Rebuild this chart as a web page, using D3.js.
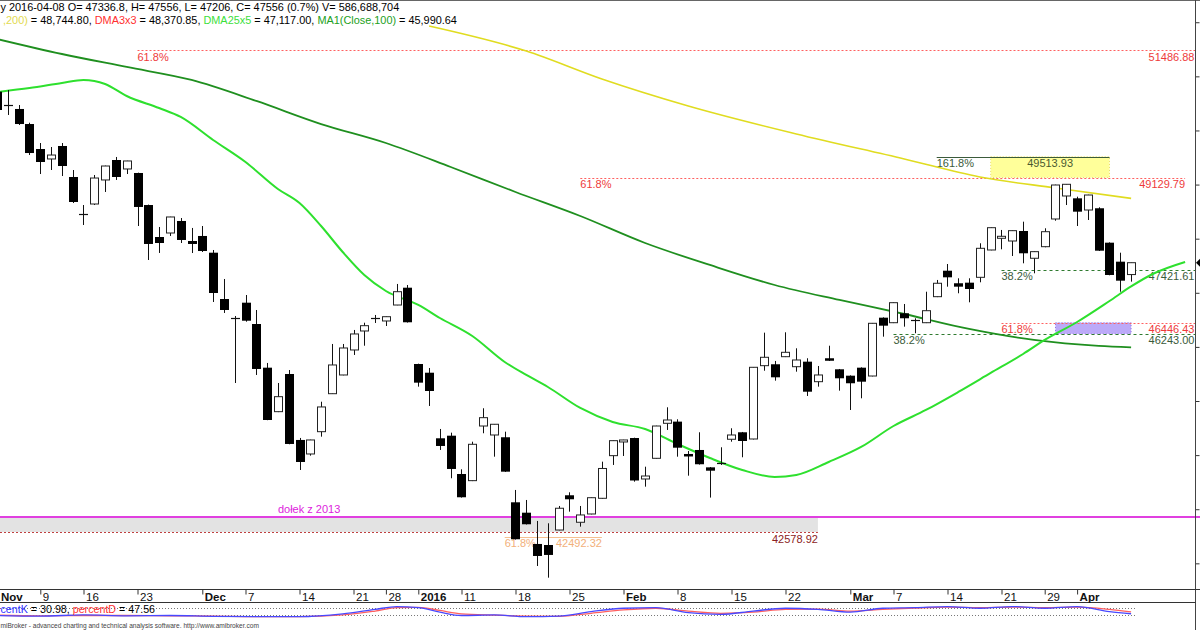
<!DOCTYPE html>
<html><head><meta charset="utf-8">
<script src="https://cdn.jsdelivr.net/npm/d3@7"></script>
<style>
body{margin:0;background:#fff}
svg{display:block}
text{font-family:"Liberation Sans",Arial,sans-serif;white-space:pre}
</style>
</head><body>
<svg id="c" width="1200" height="630"></svg>
<script>
// ---------------- DATA ----------------
const tradingDates = [
"2015-11-02","2015-11-03","2015-11-04","2015-11-05","2015-11-06",
"2015-11-09","2015-11-10","2015-11-12","2015-11-13",
"2015-11-16","2015-11-17","2015-11-18","2015-11-19","2015-11-20",
"2015-11-23","2015-11-24","2015-11-25","2015-11-26","2015-11-27",
"2015-11-30","2015-12-01","2015-12-02","2015-12-03","2015-12-04",
"2015-12-07","2015-12-08","2015-12-09","2015-12-10","2015-12-11",
"2015-12-14","2015-12-15","2015-12-16","2015-12-17","2015-12-18",
"2015-12-21","2015-12-22","2015-12-23","2015-12-28","2015-12-29","2015-12-30",
"2016-01-04","2016-01-05","2016-01-07","2016-01-08",
"2016-01-11","2016-01-12","2016-01-13","2016-01-14","2016-01-15",
"2016-01-18","2016-01-19","2016-01-20","2016-01-21","2016-01-22",
"2016-01-25","2016-01-26","2016-01-27","2016-01-28","2016-01-29",
"2016-02-01","2016-02-02","2016-02-03","2016-02-04","2016-02-05",
"2016-02-08","2016-02-09","2016-02-10","2016-02-11","2016-02-12",
"2016-02-15","2016-02-16","2016-02-17","2016-02-18","2016-02-19",
"2016-02-22","2016-02-23","2016-02-24","2016-02-25","2016-02-26","2016-02-29",
"2016-03-01","2016-03-02","2016-03-03","2016-03-04",
"2016-03-07","2016-03-08","2016-03-09","2016-03-10","2016-03-11",
"2016-03-14","2016-03-15","2016-03-16","2016-03-17","2016-03-18",
"2016-03-21","2016-03-22","2016-03-23","2016-03-24",
"2016-03-29","2016-03-30","2016-03-31",
"2016-04-01","2016-04-04","2016-04-05","2016-04-06","2016-04-07","2016-04-08",
"2016-04-11","2016-04-12","2016-04-13","2016-04-14","2016-04-15"];

const candleDates = tradingDates.slice(1, tradingDates.indexOf("2016-04-08") + 1);

const openVals = [50716,50450,50397,50119, 49657,49473,49713,49140, 48440,48641,49085,49454,49288,
 49214,48622,48031,48105,48327, 47957, 48050,47741,46885,46520, 46817,46423,45616,44803,45499,
 44280,44021,44433,45135,45481, 45943,46294,46525, 46479,46774,47094, 45684,45523,44311,44359,
 43651,43528,44538,44372,44330, 43128,42936,42358,42339,42616, 43258,42759,42912,43202,43990,
 44248,44316,43559,43941,44588, 44619,44021,44095,43774,43845, 44293,44422,44298,45653,45679,
 45819,45634,45727,45357,45790, 45586, 45468,45616,45462,46540, 46447,46621,46480,46447,46928,
 47408,47176,47187,47286,47791, 48013,47957,48142,47638, 47852,48364,48789, 48746,
 48530,48562,47926,47575,47336.8];
const highVals = [50785,50747,50470,50143, 49768,49694,49768,49269, 48622,49177,49350,49510,49440,
 49220,48630,48216,48405,48382, 48198, 48234,47791,47255,46571, 46959,46682,45703,45333,45573,
 44317,44285,44987,46054,46054, 46313,46447,46590, 46562,47163,47144, 45690,45610,44483,44415,
 43738,44248,44866,44575,44433, 43356,43171,42783,42740,43060, 43313,43060,43218,43879,44270,
 44283,44322,43786,44543,44884, 44662,44076,44422,43780,44145, 44496,44428,45628,46263,45740,
 46270,45974,45790,45647,46022, 45592, 45474,45622,46442,46546, 46822,46793,46529,47020,47237,
 47532,47268,47268,47915,48208, 48161,48152,48314,47765, 48192,48998,49010, 48776,
 48812,48580,47932,47741,47556];
const lowVals = [50341,50286,50101,49546, 49195,49269,49158,48659, 48253,48622,48863,49085,49195,
 48234,47606,47736,48050,47920, 47735, 47754,46830,46627,45333, 46466,45481,44645,44795,44200,
 43725,43990,44341,45130,45475, 45851,46022,46442, 46386,46770,46450, 45265,44908,44095,43572,
 43215,43520,44404,43971,43690, 42440,42718,41951,41735,42610, 42955,42678,42905,43195,43818,
 43984,43509,43417,43935,44465, 43971,43620,43825,43215,43818, 44248,43960,44290,45560,45376,
 45812,45542,45093,45265,45740, 45191, 44834,45050,45455,46189, 46440,46374,46252,46440,46920,
 47113,46991,46824,47194,47785, 47804,47680,47545,47360, 47841,48332,48622, 48234,
 48345,47773,47323,47020,47206];
const closeVals = [50378,50465,50119,49583, 49417,49546,49343,48678, 48450,49121,49343,49140,49436,
 48586,47902,47920,48401,47976, 47902, 47772,46996,46682,46535, 46484,45592,44649,45080,44206,
 43873,44280,44890,45666,45980, 46239,46392,46532, 46558,47020,46455, 45339,45185,44169,43744,
 43221,44200,44692,44570,43694, 42445,42722,42136,42155,43018, 43184,42894,43213,43753,44267,
 44280,43531,43614,44538,44649, 44137,43990,43831,43712,43852, 44372,44261,45623,45808,45438,
 45900,45758,45172,45481,45745, 45420, 45328,45357,46436,46392, 46817,46529,46488,46669,47176,
 47286,47113,47070,47822,48203, 48044,48148,47730,47760, 48129,48992,49005, 48499,
 48807,47778,47329,47224,47556];

const ma200Dates = ["2016-01-05","2016-01-19","2016-01-28","2016-02-09","2016-02-23","2016-03-08","2016-03-17","2016-03-30","2016-04-08"];
const ma200Vals  = [51930,51468,50951,50452,49935,49473,49140,48937,48744.8];

const ma100Dates = ["2015-11-03","2015-11-12","2015-11-20","2015-11-30","2015-12-08","2015-12-16","2015-12-28","2016-01-08","2016-01-18","2016-01-26","2016-02-03","2016-02-11","2016-02-19","2016-02-29","2016-03-08","2016-03-16","2016-03-24","2016-04-05","2016-04-08"];
const ma100Vals  = [51690,51413,51173,50933,50545,50119,49768,49325,48863,48419,47920,47514,47144,46867,46608,46331,46128,46017,45990.64];

const dma25Dates = ["2015-11-03","2015-11-06","2015-11-12","2015-11-16","2015-11-18","2015-11-20","2015-11-25","2015-11-27","2015-12-02","2015-12-07","2015-12-10","2015-12-14","2015-12-16","2015-12-18","2015-12-22","2015-12-28","2016-01-04","2016-01-07","2016-01-12","2016-01-15","2016-01-19","2016-01-21","2016-01-26","2016-01-29","2016-02-03","2016-02-08","2016-02-11","2016-02-16","2016-02-19","2016-02-23","2016-02-26","2016-03-02","2016-03-07","2016-03-10","2016-03-15","2016-03-18","2016-03-23","2016-03-29","2016-04-01","2016-04-06","2016-04-08","2016-04-12","2016-04-15"];
const dma25Vals  = [50711,50785,50877,50933,50859,50637,50415,50249,49824,49417,48918,48659,48234,47754,47329,47033,46775,46534,46201,45721,45481,45259,44871,44612,44483,44206,43947,43725,43596,43633,43873,44150,44538,44834,45167,45518,45869,46128,46460,46848,47117,47347,47569];

// Stochastic (bottom strip)
const stochDates = ["2015-11-03","2015-11-09","2015-11-16","2015-11-20","2015-11-26","2015-12-02","2015-12-08","2015-12-14","2015-12-18","2015-12-23","2015-12-29","2016-01-04","2016-01-07","2016-01-11","2016-01-14","2016-01-19","2016-01-22","2016-01-27","2016-02-01","2016-02-04","2016-02-09","2016-02-12","2016-02-17","2016-02-22","2016-02-25","2016-03-01","2016-03-04","2016-03-09","2016-03-14","2016-03-17","2016-03-22","2016-03-29","2016-04-01","2016-04-06","2016-04-08"];
const stochK = [15,10,20,12,15,8,5,5,30,70,95,85,45,15,20,5,10,50,80,85,40,25,55,80,70,45,80,85,95,80,95,80,95,50,30.98];
const stochD = [18,12,15,15,12,10,6,6,20,55,85,88,60,30,18,10,8,35,65,80,55,35,45,70,72,55,70,82,90,85,90,85,90,70,47.56];

// Fibonacci / support levels
const levelValues = [51486.88, 49129.79, 47421.61, 46446.43, 46243.00];
const levelPct    = ["61.8%", "61.8%", "38.2%", "61.8%", "38.2%"];
const levelStart  = ["2015-11-23", "2016-01-26", "2016-03-21", "2016-03-21", "2016-03-07"];
const levelKind   = ["r", "r", "g", "r", "g"];
const extValue = 49513.93, extPct = "161.8%", extStart = "2016-03-11", extBoxStart = "2016-03-18", extEnd = "2016-04-06";
const purpleBox = {start:"2016-03-30", end:"2016-04-08", hi:46446.43, lo:46243.00};
const low2013 = 42857, low2013Label = "dołek z 2013", low2013LabelDate = "2015-12-10";
const grayBox = {end:"2016-02-25", hi:42857, lo:42578.92};
const orangeLevel = {value:42492.32, pct:"61.8%", start:"2016-01-15", end:"2016-01-28"};

const priceTicks = [42000,43000,44000,45000,46000,47000,48000,49000,50000,51000,52000];
const xTickDates  = ["2015-11-02","2015-11-09","2015-11-16","2015-11-23","2015-12-01","2015-12-07","2015-12-14","2015-12-21","2015-12-28","2016-01-04","2016-01-11","2016-01-18","2016-01-25","2016-02-01","2016-02-08","2016-02-15","2016-02-22","2016-03-01","2016-03-07","2016-03-14","2016-03-21","2016-03-29","2016-04-01"];
const xTickLabels = ["Nov","9","16","23","Dec","7","14","21","28","2016","11","18","25","Feb","8","15","22","Mar","7","14","21","29","Apr"];

// header / legend texts (visible parts, as in the reference)
const headerLine1 = "y 2016-04-08 O= 47336.8, H= 47556, L= 47206, C= 47556 (0.7%) V= 586,688,704";
const headerLine2 = [[",200)", "#e2da50"], [" = 48,744.80, ", "#000"], ["DMA3x3", "#ff3030"], [" = 48,370.85, ", "#000"],
  ["DMA25x5", "#3ce03c"], [" = 47,117.00, ", "#000"], ["MA1(Close,100)", "#22a022"], [" = 45,990.64", "#000"]];
const stochLegend = [["centK", "#3030ff"], [" = 30.98, ", "#000"], ["percentD", "#ff3030"], [" = 47.56", "#000"]];
const footerText = "miBroker - advanced charting and technical analysis software. http://www.amibroker.com";

// ---------------- CHART ----------------
const W = 1200, H = 630, axisX = 1195.5;
const svg = d3.select("#c");
const x = d3.scalePoint().domain(tradingDates).range([-13.7, 1185.1]);
const y = d3.scaleLinear().domain([41692, 52411]).range([580, 0]);
const ys = d3.scaleLinear().domain([0, 100]).range([617.2, 606]);
const RED = "#ee3a3a", DKG = "#3b5b3b";

const gAnn = svg.append("g");
// gray box + magenta low of 2013
gAnn.append("rect").attr("x", 0).attr("y", y(grayBox.hi)).attr("width", x(grayBox.end))
  .attr("height", y(grayBox.lo) - y(grayBox.hi)).attr("fill", "#e3e3e3");
gAnn.append("line").attr("x1", 0).attr("x2", x(grayBox.end)).attr("y1", Math.round(y(grayBox.lo)) + .5).attr("y2", Math.round(y(grayBox.lo)) + .5)
  .attr("stroke", "#c04040").attr("stroke-dasharray", "2,2");
gAnn.append("text").attr("x", x(grayBox.end)).attr("y", y(grayBox.lo) + 10.5).attr("text-anchor", "end")
  .attr("font-size", 11).attr("fill", "#8b2222").text(d3.format(".2f")(grayBox.lo));

// orange level
gAnn.append("line").attr("x1", x(orangeLevel.start)).attr("x2", x(orangeLevel.end))
  .attr("y1", Math.round(y(orangeLevel.value)) + .5).attr("y2", Math.round(y(orangeLevel.value)) + .5)
  .attr("stroke", "#f5c090").attr("stroke-width", 1);
gAnn.append("text").attr("x", x(orangeLevel.start)).attr("y", y(orangeLevel.value) + 10.5)
  .attr("font-size", 11).attr("fill", "#f2b07a").text(orangeLevel.pct);
gAnn.append("text").attr("x", x(orangeLevel.end)).attr("y", y(orangeLevel.value) + 10.5).attr("text-anchor", "end")
  .attr("font-size", 11).attr("fill", "#f2b07a").text(d3.format(".2f")(orangeLevel.value));

// yellow extension box
gAnn.append("rect").attr("x", x(extBoxStart)).attr("y", y(extValue)).attr("width", x(extEnd) - x(extBoxStart))
  .attr("height", y(levelValues[1]) - y(extValue)).attr("fill", "#ffff9a").attr("stroke", "#e8dc70").attr("stroke-dasharray", "1,2");
gAnn.append("line").attr("x1", x(extStart)).attr("x2", x(extEnd)).attr("y1", Math.round(y(extValue)) + .5).attr("y2", Math.round(y(extValue)) + .5)
  .attr("stroke", "#3b5b3b");
gAnn.append("text").attr("x", x(extStart)).attr("y", y(extValue) + 10.5).attr("font-size", 11).attr("fill", DKG).text(extPct);
gAnn.append("text").attr("x", (x(extBoxStart) + x(extEnd)) / 2).attr("y", y(extValue) + 10.5).attr("text-anchor", "middle")
  .attr("font-size", 11).attr("fill", "#4a5a30").text(d3.format(".2f")(extValue));

// purple box
gAnn.append("rect").attr("x", x(purpleBox.start)).attr("y", y(purpleBox.hi)).attr("width", x(purpleBox.end) - x(purpleBox.start))
  .attr("height", y(purpleBox.lo) - y(purpleBox.hi)).attr("fill", "#bcaaf8").attr("stroke", "#9070e8").attr("stroke-dasharray", "1,2");

// fib level lines
levelValues.forEach((v, i) => {
  const yy = Math.round(y(v)) + .5;
  const red = levelKind[i] === "r";
  const xEnd = (v === 49129.79) ? x("2016-04-15") : axisX;
  gAnn.append("line").attr("x1", x(levelStart[i])).attr("x2", xEnd).attr("y1", yy).attr("y2", yy)
    .attr("stroke", red ? "#ff6060" : "#2f7a2f").attr("stroke-dasharray", red ? "2,2" : "3,3");
  gAnn.append("text").attr("x", x(levelStart[i])).attr("y", y(v) + 10.5).attr("font-size", 11)
    .attr("fill", red ? RED : DKG).text(levelPct[i]);
  gAnn.append("text").attr("x", xEnd === axisX ? 1194.5 : xEnd).attr("y", y(v) + 10.5).attr("text-anchor", "end").attr("font-size", 11)
    .attr("fill", red ? RED : DKG).text(d3.format(".2f")(v));
});

// magenta line
gAnn.append("line").attr("x1", 0).attr("x2", W).attr("y1", y(low2013)).attr("y2", y(low2013))
  .attr("stroke", "#e040e0").attr("stroke-width", 2);
gAnn.append("text").attr("x", x(low2013LabelDate)).attr("y", y(low2013) - 3.5).attr("font-size", 11)
  .attr("fill", "#dd22dd").text(low2013Label);

// moving averages
const mkLine = d3.line().x(d => x(d[0])).y(d => y(d[1])).curve(d3.curveMonotoneX);
const gMA = svg.append("g").attr("fill", "none");
gMA.append("path").attr("d", mkLine(d3.zip(ma100Dates, ma100Vals))).attr("stroke", "#1f8f1f").attr("stroke-width", 1.8);
gMA.append("path").attr("d", mkLine(d3.zip(dma25Dates, dma25Vals))).attr("stroke", "#2ee02e").attr("stroke-width", 2);
gMA.append("path").attr("d", mkLine(d3.zip(ma200Dates, ma200Vals))).attr("stroke", "#e0dc20").attr("stroke-width", 1.6);

// candles
const gC = svg.append("g");
candleDates.forEach((d, i) => {
  const o = openVals[i], h = highVals[i], l = lowVals[i], c = closeVals[i];
  const cx = Math.round(x(d));
  gC.append("line").attr("x1", cx + .5).attr("x2", cx + .5).attr("y1", y(h)).attr("y2", y(l)).attr("stroke", "#111");
  const top = y(Math.max(o, c)), bot = y(Math.min(o, c));
  if (bot - top < 1.2) {
    gC.append("line").attr("x1", cx - 4).attr("x2", cx + 5).attr("y1", Math.round(top) + .5).attr("y2", Math.round(top) + .5).attr("stroke", "#111").attr("stroke-width", 1.2);
  } else if (c >= o) {
    gC.append("rect").attr("x", cx - 3.5).attr("y", top).attr("width", 8).attr("height", Math.max(2, bot - top))
      .attr("fill", "#fff").attr("stroke", "#222");
  } else {
    gC.append("rect").attr("x", cx - 4).attr("y", top).attr("width", 9).attr("height", Math.max(2.5, bot - top)).attr("fill", "#000");
  }
});

// frame & price axis
svg.append("line").attr("x1", 0).attr("x2", W).attr("y1", .5).attr("y2", .5).attr("stroke", "#666");
const gY = svg.append("g").attr("transform", `translate(${axisX},0)`)
  .call(d3.axisRight(y).tickValues(priceTicks).tickSize(4).tickFormat(""));
gY.select(".domain").remove();
gY.selectAll(".tick line").attr("stroke", "#333");
svg.append("line").attr("x1", axisX).attr("x2", axisX).attr("y1", 0).attr("y2", H).attr("stroke", "#444");
const lastY = y(closeVals[closeVals.length - 1]);
svg.append("path").attr("d", d3.line()([[axisX + .5, lastY], [W, lastY - 4], [W, lastY + 4]])).attr("fill", "#000");

// date axis strip
svg.append("line").attr("x1", 0).attr("x2", W).attr("y1", 589.5).attr("y2", 589.5).attr("stroke", "#333");
svg.append("line").attr("x1", 0).attr("x2", axisX).attr("y1", 602.5).attr("y2", 602.5).attr("stroke", "#333");
const gX = svg.append("g").attr("transform", "translate(0,589.5)")
  .call(d3.axisBottom(x).tickValues(xTickDates).tickSize(5).tickFormat((d, i) => xTickLabels[i]));
gX.select(".domain").remove();
gX.selectAll(".tick line").attr("stroke", "#333");
gX.selectAll(".tick text").attr("text-anchor", "start")
  .attr("x", d => Math.max(2, 0.5 - x(d)))   // keep the first (partly off-screen) label inside the picture
  .attr("y", 2).attr("dy", "0.85em")
  .attr("fill", "#111").attr("font-size", 11.5).attr("font-family", "'Liberation Sans',Arial,sans-serif")
  .attr("font-weight", (d, i) => /^\d{1,2}$/.test(xTickLabels[i]) ? "normal" : "bold");

// stochastic strip
[20, 80].forEach(v => svg.append("line").attr("x1", 0).attr("x2", x("2016-04-08") + 5)
  .attr("y1", Math.round(ys(v)) + .5).attr("y2", Math.round(ys(v)) + .5).attr("stroke", "#777").attr("stroke-dasharray", "1,2"));
const sLine = d3.line().x(d => x(d[0])).y(d => ys(d[1])).curve(d3.curveMonotoneX);
svg.append("path").attr("d", sLine(d3.zip(stochDates, stochD))).attr("fill", "none").attr("stroke", "#ff6060").attr("stroke-width", 1.3);
svg.append("path").attr("d", sLine(d3.zip(stochDates, stochK))).attr("fill", "none").attr("stroke", "#4848ff").attr("stroke-width", 1.3);

// header / legend texts
function multi(xPos, yBase, size, parts) {
  const t = svg.append("text").attr("x", xPos).attr("y", yBase).attr("font-size", size);
  parts.forEach(([s, c]) => t.append("tspan").attr("fill", c).text(s));
  return t;
}
multi(0.5, 11, 10.9, [[headerLine1, "#000"]]);
multi(3, 24, 10.9, headerLine2);
multi(0.5, 613, 10.7, stochLegend);
multi(0.5, 627.5, 6.6, [[footerText, "#444"]]);
</script>
</body></html>
